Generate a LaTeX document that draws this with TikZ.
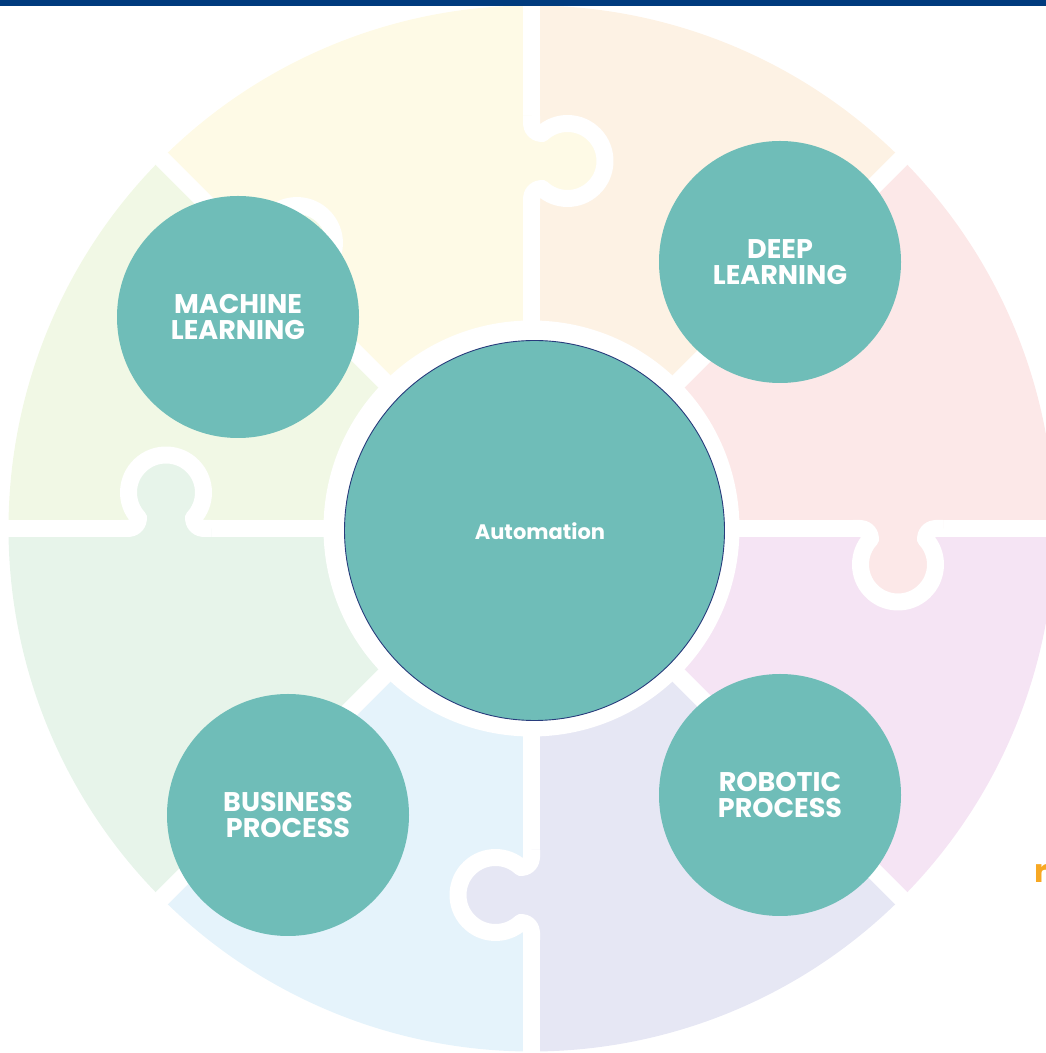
\documentclass[tikz,border=0pt]{standalone}
\usepackage{fontspec}
\setmainfont{Poppins}
\definecolor{barblue}{HTML}{003B7E}
\definecolor{tealfill}{HTML}{6FBDB8}
\definecolor{hubline}{HTML}{283C7C}
\definecolor{pzYellow}{HTML}{FEFAE6}
\definecolor{pzOrange}{HTML}{FDF2E4}
\definecolor{pzPink}{HTML}{FCE8E8}
\definecolor{pzPurple}{HTML}{F5E4F4}
\definecolor{pzLavender}{HTML}{E6E7F4}
\definecolor{pzBlue}{HTML}{E5F3FB}
\definecolor{pzGreen}{HTML}{E7F4EA}
\definecolor{pzLime}{HTML}{F1F8E5}
\definecolor{accent}{HTML}{F7A823}
% outline of one puzzle tab, in the seam's own frame (seam along x, tab towards +y)
\newcommand\knobpath{(-45,0) -- (-37.5,0) arc[start angle=-90,end angle=0,radius=10]
      -- (-27.43,10.43) arc[start angle=223,end angle=-43,radius=37.5]
      -- (27.5,10) arc[start angle=180,end angle=270,radius=10] -- (45,0)}
% #1 foot point on the seam, #2 rotation, #3 colour of the piece the tab belongs to
\newcommand\puzzleknob[3]{%
  \begin{scope}[shift={#1},rotate=#2]
    \fill[#3] (-45,-9) -- \knobpath -- (45,-9) -- cycle;
    \draw[seam] \knobpath;
  \end{scope}}
\begin{document}
\begin{tikzpicture}[x=1pt,y=1pt,
  seam/.style={white,line width=17pt,line join=round},
  sat/.style={circle,fill=tealfill,minimum size=242pt,inner sep=0pt,text=white,
    align=center,font=\bfseries\fontsize{27}{26}\selectfont},
  hub/.style={circle,fill=tealfill,draw=hubline,line width=0.9pt,minimum size=380pt,inner sep=0pt}]
\useasboundingbox (0,0) rectangle (1046,1053);
\clip (0,0) rectangle (1046,1053);
\coordinate (C) at (531.5,524.5);
% the eight pieces of the ring
\foreach \a/\c in {0/pzPink,45/pzOrange,90/pzYellow,135/pzLime,180/pzGreen,225/pzBlue,270/pzLavender,315/pzPurple}
  \fill[\c] (C) -- ++(\a:523) arc[start angle=\a,end angle=\a+45,radius=523] -- cycle;
% straight seams between the pieces
\foreach \a in {0,45,90,135}
  \draw[seam] (C) -- ++(\a:560) (C) -- ++(\a+180:560);
% tabs
\puzzleknob{(531.5,892)}{-90}{pzYellow}
\puzzleknob{(166,524.5)}{0}{pzGreen}
\puzzleknob{(898,524.5)}{180}{pzPink}
\puzzleknob{(531.5,158)}{90}{pzLavender}
\puzzleknob{(271.5,784.5)}{-45}{pzLime}
% centre
\fill[white] (C) circle[radius=208];
\node[hub] (hub) at (534.5,522.5) {};
\node[text=white,font=\bfseries\fontsize{21}{24}\selectfont] (hubtext) at (540,522) {Automation};
% satellites
\node[sat] (ml) at (238,736) {MACHINE\\LEARNING};
\node[sat] (dl) at (780,791) {DEEP\\LEARNING};
\node[sat] (rp) at (780,258) {ROBOTIC\\PROCESS};
\node[sat] (bp) at (288,238) {BUSINESS\\PROCESS};
% header bar
\fill[barblue] (0,1047) rectangle (1046,1053);
\node[anchor=base west,inner sep=0pt,text=accent,font=\bfseries\fontsize{32}{34}\selectfont] (edge) at (1034,170) {r};
\end{tikzpicture}
\end{document}
